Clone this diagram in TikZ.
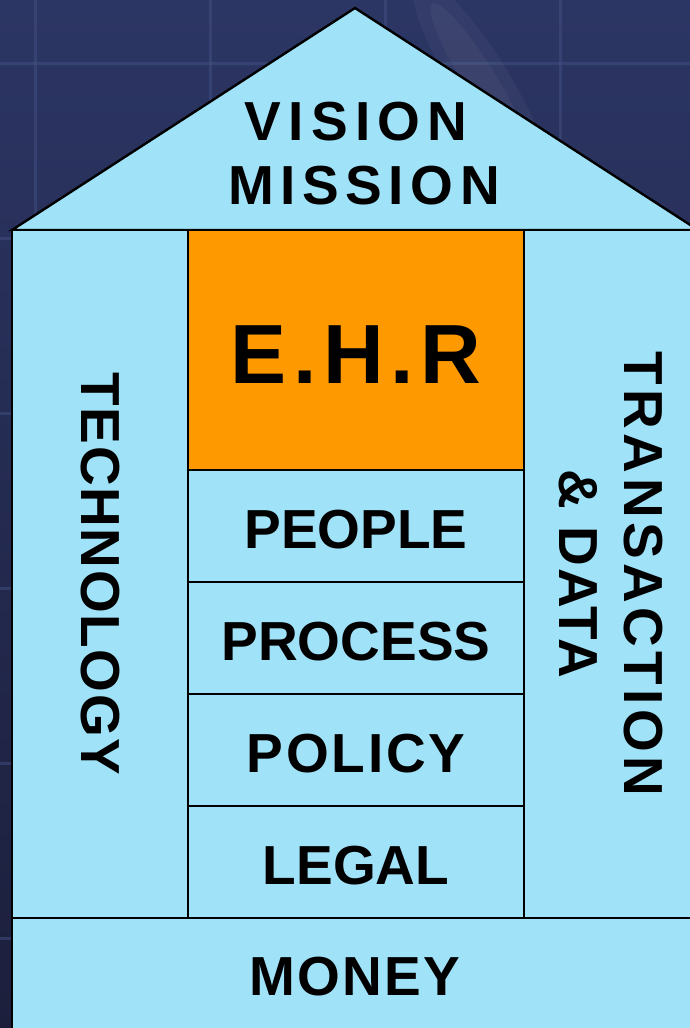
\documentclass[tikz,border=0pt]{standalone}
\usepackage{fontspec}
\setmainfont{Liberation Sans}
\usetikzlibrary{positioning}

\definecolor{sky}{RGB}{160,226,248}
\definecolor{amber}{RGB}{255,153,0}
\definecolor{navy}{RGB}{44,54,100}
\definecolor{navydark}{RGB}{28,31,60}
\definecolor{gridline}{RGB}{66,80,130}
\newcommand{\bigsans}{\fontsize{55}{65}\selectfont\bfseries}
\newcommand{\hugesans}{\fontsize{84}{90}\selectfont\bfseries}

\begin{document}
\begin{tikzpicture}[x=1pt,y=-1pt,inner sep=0pt,outer sep=0pt,line width=2.4pt,node distance=0pt,
  block/.style={draw=black,fill=sky,minimum width=336pt,minimum height=112pt,text height=45pt,text depth=0pt,font=\bigsans},
  pillar/.style={draw=black,fill=sky,minimum width=176pt,minimum height=688pt},
  upright/.style={font=\bigsans,rotate=-90,align=center}]
\useasboundingbox (0,0) rectangle (690,1028);
\clip (0,0) rectangle (690,1028);
% background
\shade [top color=navy,bottom color=navydark] (0,0) rectangle (690,1028);
\foreach \gx in {35,210,385,560} \draw [gridline,line width=3pt,opacity=.5] (\gx,0) -- (\gx,1028);
\foreach \gy in {63,238,413,588,763,938} \draw [gridline,line width=3pt,opacity=.5] (0,\gy) -- (690,\gy);
\fill [white,opacity=.04,rotate around={-58:(480,80)}] (480,80) ellipse (120pt and 28pt);
\fill [white,opacity=.04,rotate around={-58:(480,80)}] (480,80) ellipse (90pt and 16pt);
% roof
\draw [fill=sky] (12,230) coordinate (eaveL) -- (355,8) coordinate (apex) -- (698,230) coordinate (eaveR) -- cycle;
\node [font=\bigsans] (vision)  at (356,122) {\addfontfeatures{LetterSpace=13}VISION};
\node [font=\bigsans] (mission) at (364,186) {\addfontfeatures{LetterSpace=12}MISSION};
% middle stack
\node [draw=black,fill=amber,minimum width=336pt,minimum height=240pt,text height=66pt,text depth=0pt,font=\hugesans,anchor=north west] (ehr) at (188,230) {\addfontfeatures{LetterSpace=8}E.H.R};
\node [block,below=of ehr]     (people)  {PEOPLE};
\node [block,below=of people]  (process) {PROCESS};
\node [block,below=of process] (policy)  {\addfontfeatures{LetterSpace=5}POLICY};
\node [block,below=of policy]  (legal)   {LEGAL};
% side pillars and base
\node [pillar,left=of ehr.north west,anchor=north east] (tech) {};
\node [pillar,right=of ehr.north east,anchor=north west,minimum width=174pt] (trans) {};
\node [draw=black,fill=sky,minimum width=686pt,minimum height=118pt,font=\bigsans,anchor=north west] (money) at (tech.south west) {\addfontfeatures{LetterSpace=4}MONEY};
\node [upright] (techlabel)  at (tech)  {\addfontfeatures{LetterSpace=3}TECHNOLOGY};
\node [upright] (translabel) at (trans) {\addfontfeatures{LetterSpace=8}TRANSACTION\\\addfontfeatures{LetterSpace=4}\& DATA};
\end{tikzpicture}
\end{document}
